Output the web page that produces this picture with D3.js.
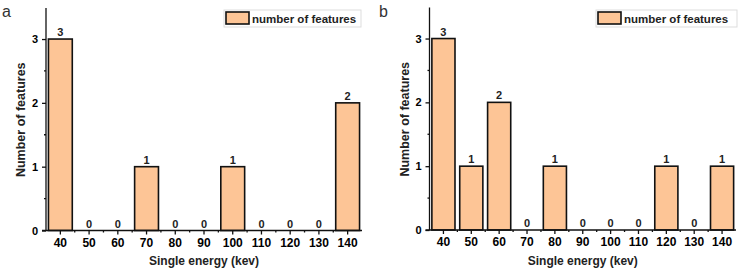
<!DOCTYPE html>
<html>
<head>
<meta charset="utf-8">
<script src="https://cdn.jsdelivr.net/npm/d3@7"></script>
<style>
  body { margin: 0; background: #fff; }
  svg text { font-family: Arial, "Liberation Sans", sans-serif; }
</style>
</head>
<body>
<div id="root"></div>
<script>
var energies = ["40", "50", "60", "70", "80", "90", "100", "110", "120", "130", "140"];
var featuresA = [3, 0, 0, 1, 0, 0, 1, 0, 0, 0, 2];
var featuresB = [3, 1, 2, 0, 1, 0, 0, 0, 1, 0, 1];
var yTicks = [0, 1, 2, 3];
var legendLabel = "number of features";

var W = 739, H = 270;
var svg = d3.select("#root").append("svg")
    .attr("width", W)
    .attr("height", H);

// one panel per data set
function drawPanel(opts) {
    var g = svg.append("g");

    var x = d3.scaleBand()
        .domain(energies)
        .range([opts.left, opts.right])
        .paddingInner(0.17)
        .paddingOuter(0.085);

    var y = d3.scaleLinear()
        .domain([0, 3.22])
        .range([opts.bottom, opts.top]);

    // bars
    g.selectAll("rect.bar")
        .data(opts.values)
        .enter().append("rect")
        .attr("class", "bar")
        .attr("x", function (d, i) { return x(energies[i]); })
        .attr("width", x.bandwidth())
        .attr("y", function (d) { return y(d); })
        .attr("height", function (d) { return y(0) - y(d); })
        .style("fill", "#fdc596")
        .style("stroke", "#111")
        .style("stroke-width", "1.6px");

    // value labels
    g.selectAll("text.val")
        .data(opts.values)
        .enter().append("text")
        .attr("class", "val")
        .attr("x", function (d, i) { return x(energies[i]) + x.bandwidth() / 2; })
        .attr("y", function (d) { return y(d) - 3; })
        .attr("text-anchor", "middle")
        .style("font-size", "11px")
        .style("font-weight", "bold")
        .style("fill", "#222")
        .text(function (d) { return d; });

    // y axis
    var yAxis = d3.axisLeft(y).tickValues(yTicks).tickSize(4).tickFormat(d3.format("d"));
    var ya = g.append("g").attr("transform", "translate(" + opts.left + ",0)").call(yAxis);
    ya.select(".domain").attr("d", "M0," + (opts.top - 17) + "V" + opts.bottom);
    ya.selectAll("text").style("font-size", "11px").style("font-weight", "bold").attr("dx", "-1");
    ya.selectAll("line, path").style("stroke", "#111").style("stroke-width", "1.3px");
    ya.selectAll("line.minor")
        .data([0.5, 1.5, 2.5])
        .enter().append("line")
        .attr("class", "minor")
        .attr("x1", -2).attr("x2", 0)
        .attr("y1", function (d) { return y(d); })
        .attr("y2", function (d) { return y(d); })
        .style("stroke", "#111").style("stroke-width", "1.3px");

    // x axis
    var xAxis = d3.axisBottom(x).tickSize(4);
    var xa = g.append("g").attr("transform", "translate(0," + opts.bottom + ")").call(xAxis);
    xa.select(".domain").attr("d", "M" + (opts.left - 4) + ",0H" + opts.right);
    xa.selectAll("text").style("font-size", "12px").style("font-weight", "bold").attr("dy", "0.78em");
    xa.selectAll("line, path").style("stroke", "#111").style("stroke-width", "1.3px");
    xa.selectAll("line.minor")
        .data(energies.slice(1))
        .enter().append("line")
        .attr("class", "minor")
        .attr("x1", function (d) { return x(d) - x.step() * x.paddingInner() / 2; })
        .attr("x2", function (d) { return x(d) - x.step() * x.paddingInner() / 2; })
        .attr("y1", 0).attr("y2", 2)
        .style("stroke", "#111").style("stroke-width", "1.3px");

    // axis titles
    g.append("text")
        .attr("x", (opts.left + opts.right) / 2)
        .attr("y", 265)
        .attr("text-anchor", "middle")
        .style("font-size", "12px")
        .style("font-weight", "bold")
        .style("fill", "#222")
        .text("Single energy (kev)");

    g.append("text")
        .attr("transform", "translate(" + (opts.left - 21) + "," + ((opts.top + opts.bottom) / 2 - 8) + ") rotate(-90)")
        .attr("text-anchor", "middle")
        .style("font-size", "12.5px")
        .style("font-weight", "bold")
        .style("fill", "#222")
        .text("Number of features");

    // panel letter
    g.append("text")
        .attr("x", opts.letterX)
        .attr("y", 17)
        .style("font-size", "16px")
        .style("fill", "#333")
        .text(opts.letter);

    // legend
    var lg = g.append("g").attr("transform", "translate(" + opts.legendX + ",10)");
    lg.append("rect")
        .attr("x", 0).attr("y", 0)
        .attr("width", opts.legendW).attr("height", 17)
        .style("fill", "#fff")
        .style("stroke", "#ddd");
    lg.append("rect")
        .attr("x", 2).attr("y", 2)
        .attr("width", 23).attr("height", 12)
        .style("fill", "#fdc596")
        .style("stroke", "#111")
        .style("stroke-width", "1.6px");
    lg.append("text")
        .attr("x", 28).attr("y", 12.5)
        .style("font-size", "11.5px")
        .style("font-weight", "bold")
        .style("fill", "#222")
        .text(legendLabel);
}

drawPanel({ values: featuresA, left: 46, right: 362, top: 25, bottom: 230.5,
    letter: "a", letterX: 2, legendX: 224, legendW: 137 });
drawPanel({ values: featuresB, left: 429.5, right: 736, top: 24.5, bottom: 230,
    letter: "b", letterX: 379, legendX: 596, legendW: 141 });
</script>
</body>
</html>
